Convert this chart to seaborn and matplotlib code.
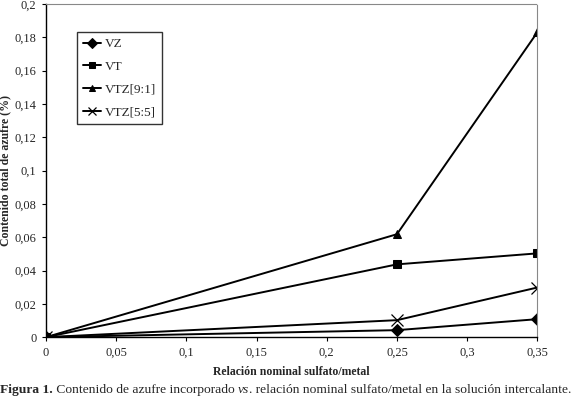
import pandas as pd
import matplotlib.pyplot as plt
import seaborn as sns

relacion = [0, 0.25, 0.35]
vz = [0, 0.0042, 0.0108]
vt = [0, 0.0437, 0.0503]
vtz91 = [0, 0.0618, 0.183]
vtz55 = [0, 0.0102, 0.0298]
series = ['VZ', 'VT', 'VTZ[9:1]', 'VTZ[5:5]']

df = pd.DataFrame({
    'x': relacion * 4,
    'y': vz + vt + vtz91 + vtz55,
    'serie': [s for s in series for _ in relacion],
})

sns.set_style('white')
plt.rcParams['font.family'] = ['Liberation Serif', 'DejaVu Serif']

fig = plt.figure(figsize=(5.72, 3.99), dpi=100)
ax = fig.add_axes([0.0804, 0.155, 0.859, 0.835])
sns.lineplot(data=df, x='x', y='y', hue='serie', style='serie',
             palette=['black'] * 4, markers=['D', 's', '^', 'X'], dashes=False,
             markersize=6, linewidth=1.4, markeredgecolor='black', ax=ax)

# the x marker for VTZ[5:5] is a thin cross in the original
for line in ax.lines:
    if line.get_marker() == 'X':
        line.set_marker('x')
        line.set_markersize(8)
        line.set_markeredgewidth(0.9)

ax.set_xlim(0, 0.35)
ax.set_ylim(0, 0.2)
xt = [0, 0.05, 0.1, 0.15, 0.2, 0.25, 0.3, 0.35]
yt = [0, 0.02, 0.04, 0.06, 0.08, 0.1, 0.12, 0.14, 0.16, 0.18, 0.2]
ax.set_xticks(xt)
ax.set_xticklabels([f'{v:g}'.replace('.', ',') for v in xt], fontsize=9)
ax.set_yticks(yt)
ax.set_yticklabels([f'{v:g}'.replace('.', ',') for v in yt], fontsize=9)
ax.tick_params(axis='both', direction='out', length=3, width=0.8, color='black',
               left=True, bottom=True, pad=4)

for side in ['left', 'bottom']:
    ax.spines[side].set_color('black')
    ax.spines[side].set_linewidth(1)
for side in ['top', 'right']:
    ax.spines[side].set_color('#888888')
    ax.spines[side].set_linestyle((0, (1, 1)))
    ax.spines[side].set_linewidth(0.8)

ax.set_xlabel('Relación nominal sulfato/metal', fontsize=8.5, fontweight='bold', labelpad=5)
ax.set_ylabel('Contenido total de azufre (%)', fontsize=8.5, fontweight='bold', labelpad=2)

leg = ax.legend(loc='upper left', bbox_to_anchor=(0.063, 0.916), fontsize=9.5,
                frameon=True, fancybox=False, edgecolor='black', labelspacing=0.8,
                handlelength=1.4, handletextpad=0.3, borderpad=0.45, borderaxespad=0,
                markerscale=0.8)
leg.get_frame().set_linewidth(1)

# caption with mixed styles
renderer = fig.canvas.get_renderer()
parts = [('Figura 1.', 'bold', 'normal'), (' Contenido de azufre incorporado ', 'normal', 'normal'),
         ('vs', 'normal', 'italic'),
         ('. relación nominal sulfato/metal en la solución intercalante.', 'normal', 'normal')]
x = 0.0
for txt, w, st in parts:
    t = fig.text(x, 0.015, txt, fontsize=9.7, fontweight=w, fontstyle=st, ha='left', va='baseline')
    bb = t.get_window_extent(renderer=renderer)
    x += bb.width / fig.bbox.width

fig.savefig('out.png', dpi=100)
